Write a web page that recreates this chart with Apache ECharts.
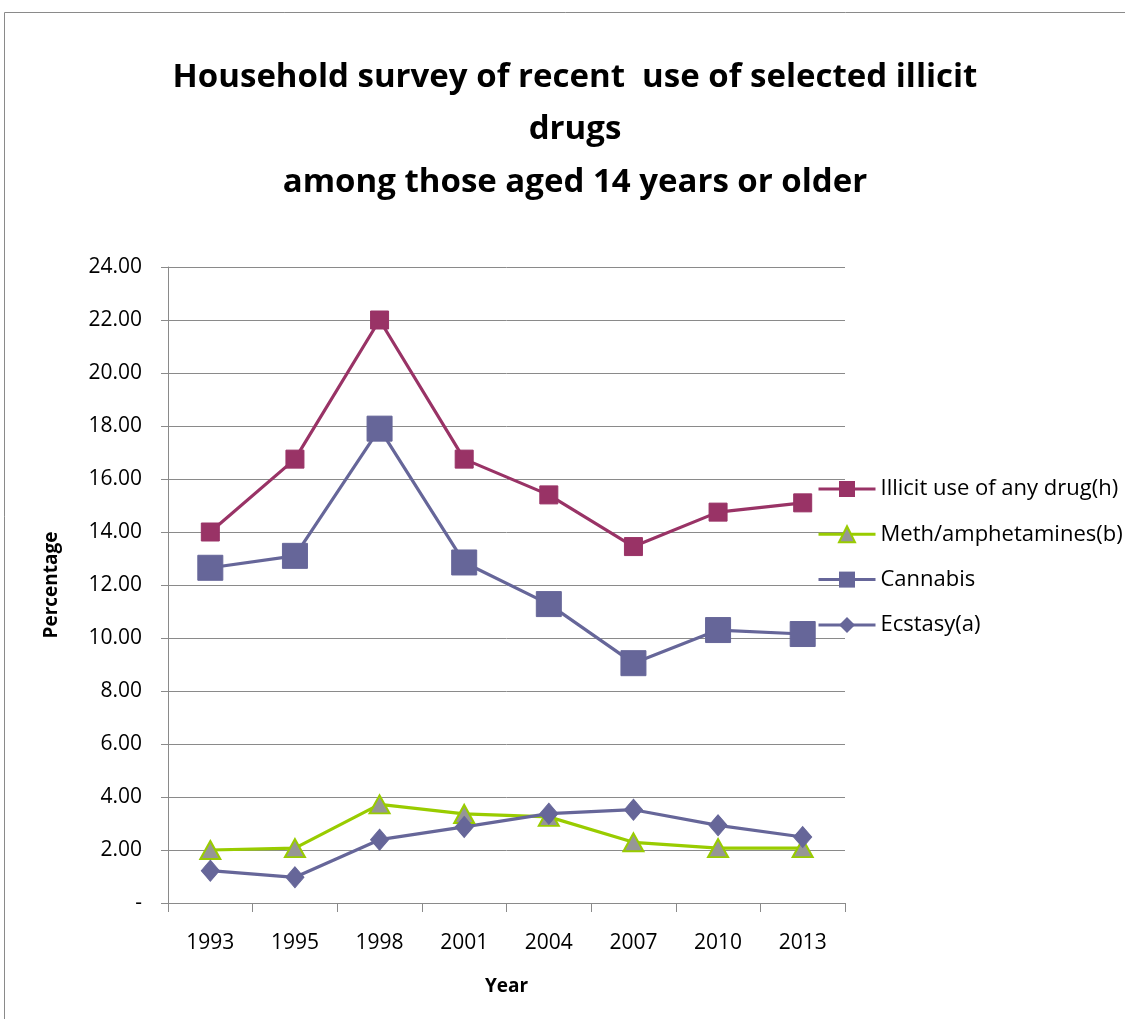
<!DOCTYPE html>
<html><head><meta charset="utf-8">
<script src="https://cdn.jsdelivr.net/npm/echarts@6/dist/echarts.min.js"></script>
<style>html,body{margin:0;padding:0;background:#fff}#c{width:1125px;height:1019px}</style>
</head><body><div id="c"></div>
<script>
const years = ['1993','1995','1998','2001','2004','2007','2010','2013'];
const illicitAny = [14.0, 16.75, 22.0, 16.75, 15.4, 13.45, 14.75, 15.1];
const methAmph = [2.0, 2.07, 3.72, 3.36, 3.25, 2.29, 2.07, 2.07];
const cannabis = [12.65, 13.1, 17.9, 12.85, 11.28, 9.05, 10.3, 10.15];
const ecstasy = [1.22, 0.97, 2.39, 2.87, 3.37, 3.52, 2.93, 2.49];
const seriesNames = ['Illicit use of any drug(h)', 'Meth/amphetamines(b)', 'Cannabis', 'Ecstasy(a)'];
const yTicks = [0, 2, 4, 6, 8, 10, 12, 14, 16, 18, 20, 22, 24];

const FONT = 'Open Sans';
const chart = echarts.init(document.getElementById('c'));
chart.setOption({
  animation: false,
  backgroundColor: '#fff',
  graphic: [{
    type: 'rect', shape: {x: 4.5, y: 12.5, width: 1300, height: 1200},
    style: {fill: 'none', stroke: '#8a8a8a', lineWidth: 1}, z: -1
  }],
  title: {
    text: 'Household survey of recent  use of selected illicit\ndrugs\namong those aged 14 years or older',
    left: 570, top: 46, textAlign: 'center',
    textStyle: {fontFamily: FONT, fontWeight: 'bold', fontSize: 33, lineHeight: 52.5, color: '#000'}
  },
  grid: {left: 168, right: 280, top: 267, bottom: 116, containLabel: false},
  legend: {
    orient: 'vertical', left: 812, top: 473,
    itemWidth: 57, itemHeight: 20, itemGap: 23.3,
    lineStyle: {width: 3},
    textStyle: {fontFamily: FONT, fontSize: 22, lineHeight: 20, color: '#000'},
    data: seriesNames
  },
  xAxis: {
    type: 'category', data: years, boundaryGap: true,
    name: 'Year', nameLocation: 'middle', nameGap: 74,
    nameTextStyle: {fontFamily: FONT, fontWeight: 'bold', fontSize: 19, color: '#000'},
    axisLine: {lineStyle: {color: '#8a8a8a', width: 1}},
    axisTick: {show: true, length: 9, lineStyle: {color: '#8a8a8a'}},
    axisLabel: {fontFamily: FONT, fontSize: 21, color: '#000', margin: 30}
  },
  yAxis: {
    type: 'value', min: 0, max: 24, interval: 2,
    name: 'Percentage', nameLocation: 'middle', nameGap: 107, nameRotate: 90,
    nameTextStyle: {fontFamily: FONT, fontWeight: 'bold', fontSize: 19, color: '#000'},
    axisLine: {show: true, lineStyle: {color: '#8a8a8a', width: 1}},
    axisTick: {show: true, length: 7, lineStyle: {color: '#8a8a8a'}},
    axisLabel: {fontFamily: FONT, fontSize: 21, color: '#000', margin: 26,
      formatter: v => (v === 0 ? '-' : v.toFixed(2))},
    splitLine: {lineStyle: {color: '#8a8a8a', width: 1}}
  },
  series: [
    {name: seriesNames[0], type: 'line', data: illicitAny, symbol: 'rect', symbolSize: 18,
      lineStyle: {color: '#993366', width: 3.2}, itemStyle: {color: '#993366', borderColor: '#993366'}},
    {name: seriesNames[1], type: 'line', data: methAmph, symbol: 'triangle', symbolSize: [20, 18],
      lineStyle: {color: '#99cc00', width: 3.2}, itemStyle: {color: '#969696', borderColor: '#99cc00', borderWidth: 2}},
    {name: seriesNames[2], type: 'line', data: cannabis, symbol: 'rect', symbolSize: 25,
      lineStyle: {color: '#666699', width: 3.2}, itemStyle: {color: '#666699', borderColor: '#666699'}},
    {name: seriesNames[3], type: 'line', data: ecstasy, symbol: 'diamond', symbolSize: [18, 21],
      lineStyle: {color: '#666699', width: 3.2}, itemStyle: {color: '#666699', borderColor: '#666699'}}
  ]
});
</script></body></html>
